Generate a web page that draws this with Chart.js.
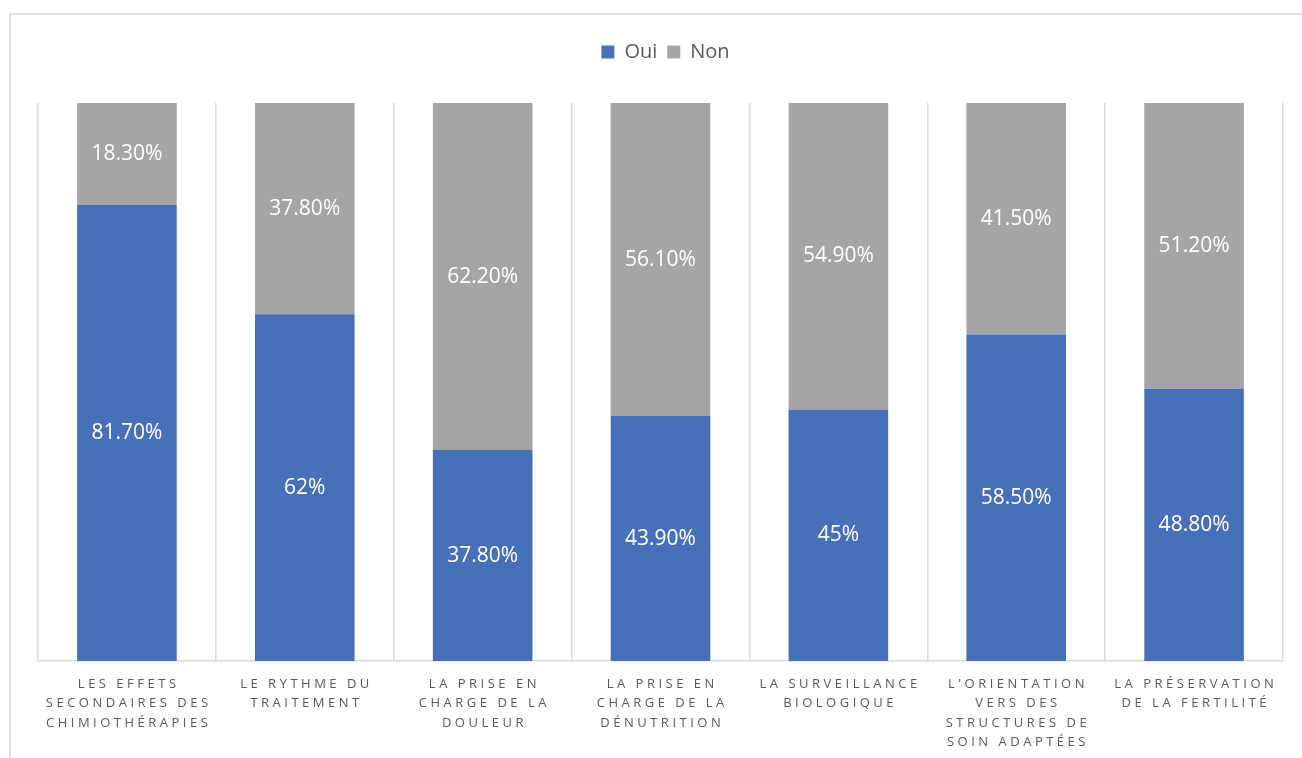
<!DOCTYPE html>
<html>
<head>
<meta charset="utf-8">
<script src="https://cdn.jsdelivr.net/npm/chart.js@4.4.1/dist/chart.umd.min.js"></script>
<style>
  html, body { margin: 0; padding: 0; background: #fff; }
  #wrap { position: relative; width: 1302px; height: 758px; overflow: hidden; }
  #frame { position: absolute; left: 9px; top: 13px; width: 1400px; height: 900px; border: 2px solid #e3e3e3; box-sizing: border-box; }
  #box { position: absolute; left: 0; top: 0; width: 1302px; height: 758px; }
</style>
</head>
<body>
<div id="wrap">
  <div id="frame"></div>
  <div id="box"><canvas id="chart"></canvas></div>
</div>
<script>
// categories, one array of lines per bar
const categories = [
    ['LES EFFETS', 'SECONDAIRES DES', 'CHIMIOTHÉRAPIES'],
    ['LE RYTHME DU', 'TRAITEMENT'],
    ['LA PRISE EN', 'CHARGE DE LA', 'DOULEUR'],
    ['LA PRISE EN', 'CHARGE DE LA', 'DÉNUTRITION'],
    ['LA SURVEILLANCE', 'BIOLOGIQUE'],
    ["L'ORIENTATION", 'VERS DES', 'STRUCTURES DE', 'SOIN ADAPTÉES'],
    ['LA PRÉSERVATION', 'DE LA FERTILITÉ']
];

const ouiValues = [81.7, 62, 37.8, 43.9, 45, 58.5, 48.8];
const nonValues = [18.3, 37.8, 62.2, 56.1, 54.9, 41.5, 51.2];

// 100% stacked: each bar is scaled to its own total, labels keep the raw values
const totals = ouiValues.map((v, i) => v + nonValues[i]);
const toShare = arr => arr.map((v, i) => v / totals[i] * 100);

function fmt(v) {
    return Number.isInteger(v) ? v + '%' : v.toFixed(2) + '%';
}

// white value labels in the middle of each segment
const segmentLabels = {
    id: 'segmentLabels',
    afterDatasetsDraw(chart) {
        const ctx = chart.ctx;
        ctx.save();
        ctx.font = '21px "Open Sans"';
        ctx.fillStyle = '#ffffff';
        ctx.textAlign = 'center';
        ctx.textBaseline = 'middle';
        chart.data.datasets.forEach((ds, i) => {
            chart.getDatasetMeta(i).data.forEach((bar, j) => {
                const p = bar.getProps(['x', 'y', 'base'], true);
                ctx.fillText(fmt(ds.raw[j]), p.x, (p.y + p.base) / 2);
            });
        });
        ctx.restore();
    }
};

// category labels drawn by hand because of the letter spacing
const spacedTicks = {
    id: 'spacedTicks',
    afterDraw(chart) {
        const ctx = chart.ctx;
        const xs = chart.scales.x;
        ctx.save();
        ctx.font = '13px "Open Sans"';
        ctx.fillStyle = '#595959';
        ctx.textAlign = 'center';
        ctx.textBaseline = 'middle';
        ctx.letterSpacing = '3.5px';
        categories.forEach((lines, i) => {
            const x = xs.getPixelForValue(i) + 1.75;
            lines.forEach((line, k) => {
                ctx.fillText(line, x, xs.bottom + 23 + k * 19.5);
            });
        });
        ctx.restore();
    }
};

// extra room under the legend, and nudge it a little to the right
const legendGap = {
    id: 'legendGap',
    beforeInit(chart) {
        const fit = chart.legend.fit;
        chart.legend.fit = function () {
            fit.bind(chart.legend)();
            this.height += 31;
        };
    },
    afterLayout(chart) {
        chart.legend.left += 5;
        chart.legend.right += 5;
    }
};

new Chart(document.getElementById('chart'), {
    type: 'bar',
    data: {
        labels: categories.map(c => c.join(' ')),
        datasets: [{
            label: 'Oui',
            data: toShare(ouiValues),
            raw: ouiValues,
            backgroundColor: '#4870B8',
            barPercentage: 0.56,
            categoryPercentage: 1
        }, {
            label: 'Non',
            data: toShare(nonValues),
            raw: nonValues,
            backgroundColor: '#A5A5A5',
            barPercentage: 0.56,
            categoryPercentage: 1
        }]
    },
    options: {
        responsive: true,
        maintainAspectRatio: false,
        animation: false,
        layout: { padding: { top: 32, left: 38, right: 19, bottom: 97 } },
        plugins: {
            legend: {
                position: 'top',
                labels: {
                    color: '#595959',
                    font: { family: 'Open Sans', size: 20 },
                    boxWidth: 13,
                    boxHeight: 13,
                    padding: 10
                }
            },
            tooltip: { enabled: false }
        },
        scales: {
            x: {
                stacked: true,
                grid: { offset: true, color: '#d9d9d9', lineWidth: 1.5, drawTicks: false },
                border: { color: '#d9d9d9', width: 1.5 },
                ticks: { display: false }
            },
            y: {
                stacked: true,
                display: false,
                min: 0,
                max: 100
            }
        }
    },
    plugins: [segmentLabels, spacedTicks, legendGap]
});
</script>
</body>
</html>
